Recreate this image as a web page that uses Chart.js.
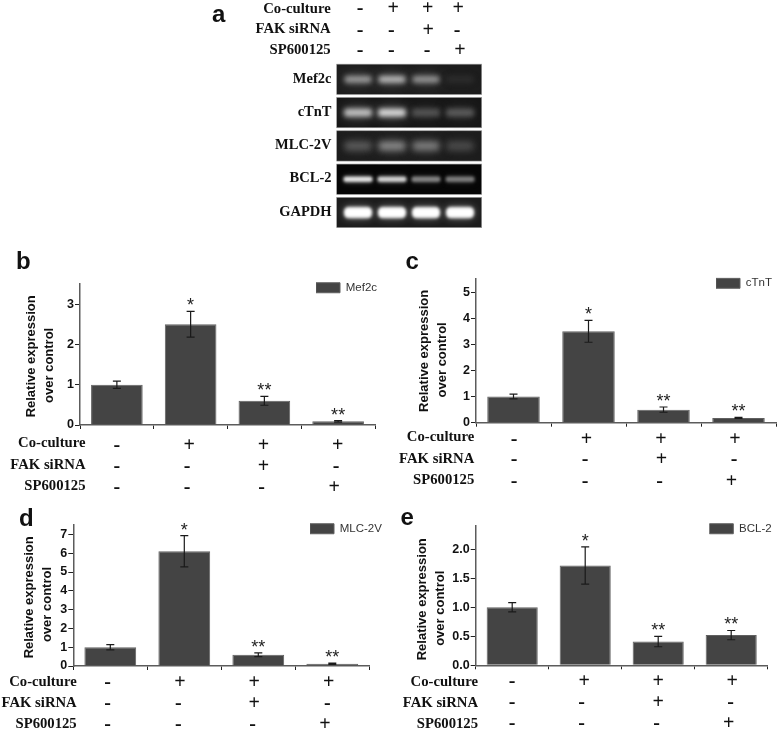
<!DOCTYPE html>
<html><head><meta charset="utf-8">
<script src="https://cdn.jsdelivr.net/npm/chart.js@4"></script>
<style>
html,body{margin:0;padding:0;background:#fff;width:778px;height:730px;overflow:hidden}
canvas{position:absolute}
.letter{position:absolute;font:bold 24px 'Liberation Sans',sans-serif;color:#111;line-height:24px}
</style></head><body>
<script>
// ---- data ----
const categories=['Control','Co-culture','Co-culture + FAK siRNA','Co-culture + SP600125'];
const rowLabels=['Co-culture','FAK siRNA','SP600125'];
const coCulture=['-','+','+','+'];
const fakSirna=['-','-','+','-'];
const sp600125=['-','-','-','+'];
const mef2cValues=[1,2.5,0.6,0.09];
const mef2cErrors=[0.09,0.32,0.11,0.02];
const ctntValues=[1,3.5,0.5,0.18];
const ctntErrors=[0.09,0.42,0.1,0.02];
const mlcValues=[1,6.1,0.6,0.12];
const mlcErrors=[0.14,0.83,0.1,0.03];
const bclValues=[1,1.72,0.41,0.52];
const bclErrors=[0.08,0.32,0.09,0.08];
const significance=['','*','**','**'];
const gelTargets=['Mef2c','cTnT','MLC-2V','BCL-2','GAPDH'];
const gelMef2c=[0.55,0.68,0.52,0.06];
const gelCtnt=[0.72,0.82,0.24,0.27];
const gelMlc=[0.27,0.47,0.42,0.2];
const gelBcl=[0.9,0.82,0.46,0.43];
const gelGapdh=[1,1,1,1];

// ---- styling ----
const SERIF="'Liberation Serif',serif", SANS="'Liberation Sans',sans-serif";
const signRows=[coCulture,fakSirna,sp600125];
function drawRows(ctx,xs,o,ox,oy){
  ctx.save();ctx.fillStyle='#111';ctx.textBaseline='middle';
  rowLabels.forEach((t,r)=>{
    ctx.font='bold 14.7px '+SERIF;ctx.textAlign='right';
    ctx.fillText(t,o.labelRight-ox,o.labelY[r]-oy+.6);
    ctx.textAlign='center';ctx.font='bold 20px '+SERIF;
    signRows[r].forEach((s,c)=>ctx.fillText(s,xs[c]+o.nudge[r][c],o.signY[r]-oy+1.8));
  });
  ctx.restore();
}
function panel(id,title,values,errors,p){
  const T=12,H=68;
  const top=Math.floor(p.plotTop-T);
  const w=Math.ceil(p.legendRight)-p.L+4;
  const plotBottomRel=p.baseline-top;
  const cv=document.createElement('canvas');
  cv.id=id;cv.width=w;cv.height=Math.min(730-top,plotBottomRel+H);
  cv.style.left=p.L+'px';cv.style.top=top+'px';
  document.body.appendChild(cv);
  const overlay={id:'overlay',
    afterLayout(c){const L=c.legend,lw=L.width,lh=L.height;
      L.left=p.legendX-p.L;L.right=L.left+lw+6;L.top=p.legendY-top;L.bottom=L.top+lh;},
    afterDatasetsDraw(c){
      const x=c.scales.x,y=c.scales.y,ctx=c.ctx;
      ctx.save();ctx.strokeStyle='#1a1a1a';ctx.lineWidth=1.2;
      values.forEach((v,i)=>{
        const X=x.getPixelForTick(i),a=y.getPixelForValue(v+errors[i]),b=y.getPixelForValue(v-errors[i]);
        ctx.beginPath();ctx.moveTo(X,a);ctx.lineTo(X,b);
        ctx.moveTo(X-4,a);ctx.lineTo(X+4,a);ctx.moveTo(X-4,b);ctx.lineTo(X+4,b);ctx.stroke();
        if(significance[i]){
          ctx.fillStyle='#222';ctx.font='18px '+SANS;ctx.textAlign='center';ctx.textBaseline='middle';
          ctx.fillText(significance[i],X,a-5);
        }
      });
      ctx.restore();
    },
    afterDraw(c){
      const x=c.scales.x;
      drawRows(c.ctx,categories.map((_,i)=>x.getPixelForTick(i)),p,p.L,top);
    }};
  new Chart(cv,{type:'bar',
    data:{labels:categories,datasets:[{label:title,data:values,backgroundColor:'#444444',borderColor:'#606060',borderWidth:1,
      barPercentage:0.7,categoryPercentage:1}]},
    plugins:[overlay],
    options:{responsive:false,animation:false,
      layout:{padding:{left:0,top:T,right:w-(p.right-p.L),bottom:0}},
      plugins:{tooltip:{enabled:false},
        legend:{position:'chartArea',align:'start',labels:{boxWidth:24,boxHeight:10,padding:0,color:'#333',font:{family:SANS,size:11.5}}}},
      scales:{
        x:{afterFit:s=>{s.height=cv.height-plotBottomRel},border:{color:'#5c5c5c',width:1.5},
          grid:{drawOnChartArea:false,drawTicks:true,tickLength:4,color:'#222'},ticks:{display:false}},
        y:{min:0,max:p.max,afterFit:s=>{s.width=p.axisX-p.L},border:{color:'#5c5c5c',width:1.5},
          grid:{drawOnChartArea:false,tickLength:5,color:'#222'},
          ticks:{stepSize:p.step,includeBounds:false,padding:1,color:'#111',font:{family:SANS,size:12.5,weight:'bold'},
            callback:v=>p.step<1?v.toFixed(1):String(v)},
          title:{display:true,text:['Relative expression'+' '.repeat(p.tail[0]),'over control'+' '.repeat(p.tail[1])],color:'#111',
            font:{family:SANS,size:13,weight:'bold',lineHeight:18/13},padding:{top:p.titleX-9-p.L,bottom:0}}}
      }}});
}
const N=(a,b,c)=>[a,b,c];
panel('b','Mef2c',mef2cValues,mef2cErrors,{L:0,axisX:80,right:375,plotTop:284.3,baseline:425,max:3.5,step:1,titleX:31.7,tail:[1,6],
  legendX:316,legendY:282,legendRight:376,labelRight:85.5,labelY:[443,464.3,485.7],signY:[444,464.7,486],
  nudge:N([0,-1.5,-1,-.5],[0,-3.5,-1,-2],[0,-3.5,-2.7,-4])});
panel('c','cTnT',ctntValues,ctntErrors,{L:392,axisX:476,right:776,plotTop:279.7,baseline:422.7,max:5.5,step:1,titleX:424,tail:[0,5],
  legendX:716,legendY:277.5,legendRight:776,labelRight:474.3,labelY:[437,458.3,479.7],signY:[437.7,458.3,480.3],
  nudge:N([.5,-2,-2.5,-3.5],[.5,-3.5,-2,-4.5],[.5,-3.5,-4,-7])});
panel('d','MLC-2V',mlcValues,mlcErrors,{L:0,axisX:73.3,right:369.3,plotTop:525,baseline:666,max:7.5,step:1,titleX:29.3,tail:[1,5],
  legendX:310,legendY:523,legendRight:385,labelRight:76.7,labelY:[681.7,702.3,724],signY:[681,702.3,723.3],
  nudge:N([-2.7,-4.3,-4,-3.6],[-2.7,-6,-4,-5],[-2.7,-6,-5.6,-7.3])});
panel('e','BCL-2',bclValues,bclErrors,{L:392,axisX:475.7,right:767.7,plotTop:526,baseline:665.3,max:2.4,step:0.5,titleX:422.3,tail:[2,7],
  legendX:709.3,legendY:523,legendRight:776,labelRight:478,labelY:[681.7,702.3,724],signY:[679.7,700.7,722],
  nudge:N([0,-1,0,1],[0,-3.5,0,-.5],[0,-3.5,-1.5,-2.5])});

// ---- gel panel a ----
function band(level,bw,bh,blur,glow){
  const S=64,H=40,c=document.createElement('canvas');c.width=S;c.height=H;
  const g=c.getContext('2d');
  const v=Math.round(30+225*level);
  const col='rgb('+v+','+v+','+v+')';
  const shape=()=>{g.beginPath();g.roundRect(S/2-bw/2,H/2-bh/2,bw,bh,bh/2.4);g.fill();};
  g.fillStyle=col;
  g.filter='blur('+(blur*2.6)+'px)';g.globalAlpha=glow;shape();
  g.filter='blur('+blur+'px)';g.globalAlpha=1;shape();
  return c;
}
const gelRows=[gelMef2c,gelCtnt,gelMlc,gelBcl,gelGapdh];
const gelShape=[[27,7,2.6,.45],[28,8,2.6,.45],[27,9,3,.4],[29,5.5,1.5,.25],[28,11,1.7,.4]];
const gelBg=['#1d1d1d','#161616','#1c1c1c','#060606','#1c1c1c'];
const points=[],styles=[];
gelRows.forEach((row,r)=>row.forEach((lv,l)=>{points.push({x:l,y:r});styles.push(band(lv,...gelShape[r]));}));
const gc=document.createElement('canvas');gc.width=290;gc.height=240;gc.style.left='205px';gc.style.top='0px';
document.body.appendChild(gc);
const ROWS={labelRight:330.7,labelY:[8.3,29,50],signY:[7,28.7,49],
  nudge:N([2,1.3,1.7,-1.7],[2,-.7,2.3,-3],[2,-.7,1,0])};
new Chart(gc,{type:'scatter',
  data:{datasets:[{label:'Bands',data:points,pointStyle:styles,pointRadius:10}]},
  plugins:[{id:'gel',
    beforeDatasetsDraw(c){const y=c.scales.y,a=c.chartArea,ctx=c.ctx;
      gelTargets.forEach((t,r)=>{
        const t0=y.getPixelForValue(r-.455),t1=y.getPixelForValue(r+.455);
        ctx.fillStyle=gelBg[r];ctx.fillRect(a.left,t0,a.right-a.left,t1-t0);
        ctx.strokeStyle='#999';ctx.lineWidth=.6;ctx.strokeRect(a.left,t0,a.right-a.left,t1-t0);
      });},
    afterDraw(c){const x=c.scales.x,y=c.scales.y,ctx=c.ctx;
      drawRows(ctx,[0,1,2,3].map(i=>x.getPixelForValue(i)),ROWS,205,0);
      ctx.save();ctx.fillStyle='#111';ctx.textAlign='right';ctx.textBaseline='middle';ctx.font='bold 14.5px '+SERIF;
      gelTargets.forEach((t,r)=>ctx.fillText(t,331.5-205,y.getPixelForValue(r)-.5));
      ctx.restore();}
  }],
  options:{responsive:false,animation:false,
    layout:{padding:{left:336.7-205,right:290-(481.7-205),top:65,bottom:240-229}},
    plugins:{legend:{display:false},tooltip:{enabled:false}},
    scales:{x:{display:false,min:-0.626,max:3.638},y:{display:false,reverse:true,min:-0.43,max:4.495}}}});

// ---- panel letters ----
[['a',212,1.5],['b',16,248.7],['c',405.5,248.7],['d',19,505.7],['e',400.5,504.7]].forEach(([t,x,y])=>{
  const d=document.createElement('div');d.className='letter';d.textContent=t;d.style.left=x+'px';d.style.top=y+'px';document.body.appendChild(d);});
</script>
</body></html>
